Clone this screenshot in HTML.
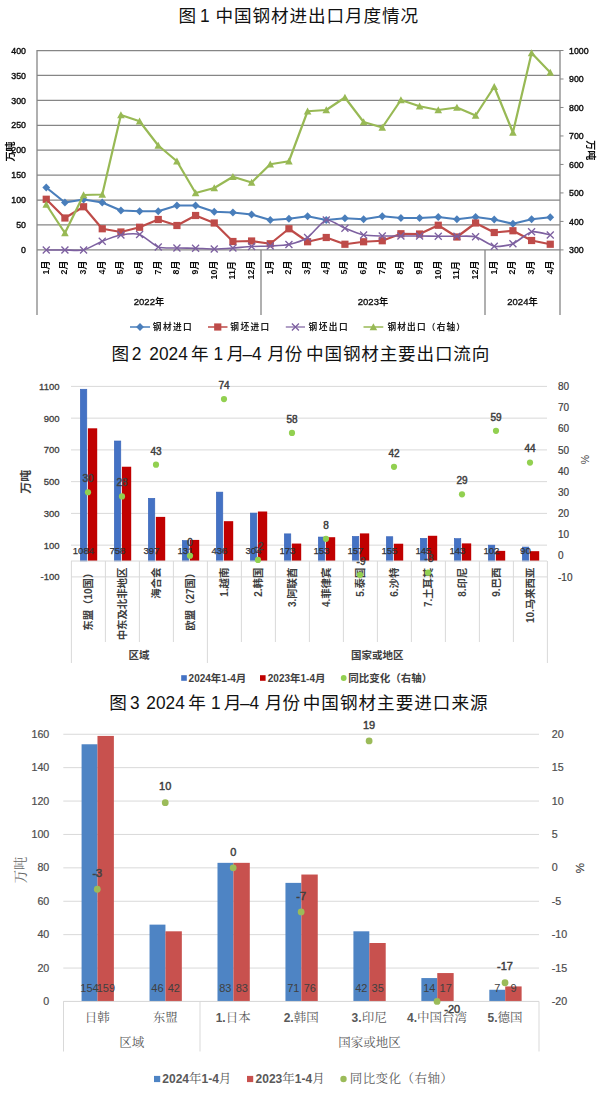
<!DOCTYPE html>
<html><head><meta charset="utf-8"><title>steel charts</title>
<style>
html,body{margin:0;padding:0;background:#fff;}
body{width:600px;height:1099px;overflow:hidden;font-family:"Liberation Sans","Noto Sans CJK SC",sans-serif;}
svg{display:block;font-family:"Liberation Sans","Noto Sans CJK SC",sans-serif;}
.cj{font-family:"Liberation Sans","Noto Sans CJK SC",sans-serif;}
.sf{font-family:"Liberation Serif","Noto Serif CJK SC",serif;}
</style></head><body>
<svg width="600" height="1099" viewBox="0 0 600 1099">
<text class="cj" x="178.48" y="21.7" font-size="17.6" fill="#111">图</text><text class="cj" x="215.41" y="21.7" font-size="17.6" fill="#111" textLength="202.6" lengthAdjust="spacing">中国钢材进出口月度情况</text><text transform="translate(199.98,21.7) scale(0.91,1)" font-size="19.0" fill="#111">1</text><text class="cj" x="111.38" y="359.7" font-size="17.6" fill="#111">图</text><text class="cj" x="191.07" y="359.7" font-size="17.6" fill="#111">年</text><text class="cj" x="226.52" y="359.7" font-size="17.6" fill="#111">月</text><text class="cj" x="267.37" y="359.7" font-size="17.6" fill="#111">月</text><text class="cj" x="284.75" y="359.7" font-size="17.6" fill="#111">份</text><text class="cj" x="306.11" y="359.7" font-size="17.6" fill="#111" textLength="183.2" lengthAdjust="spacing">中国钢材主要出口流向</text><text transform="translate(131.83,359.7) scale(0.91,1)" font-size="19.0" fill="#111">2</text><text transform="translate(149.33,359.7) scale(0.91,1)" font-size="19.0" fill="#111">2024</text><text transform="translate(213.38,359.7) scale(0.91,1)" font-size="19.0" fill="#111">1</text><text transform="translate(242.6,359.7) scale(0.91,1)" font-size="19.0" fill="#111">–</text><text transform="translate(251.9,359.7) scale(0.91,1)" font-size="19.0" fill="#111">4</text><text class="cj" x="109.28" y="708.5" font-size="17.6" fill="#111">图</text><text class="cj" x="188.27" y="708.5" font-size="17.6" fill="#111">年</text><text class="cj" x="223.87" y="708.5" font-size="17.6" fill="#111">月</text><text class="cj" x="264.87" y="708.5" font-size="17.6" fill="#111">月</text><text class="cj" x="282.45" y="708.5" font-size="17.6" fill="#111">份</text><text class="cj" x="302.76" y="708.5" font-size="17.6" fill="#111" textLength="184.9" lengthAdjust="spacing">中国钢材主要进口来源</text><text transform="translate(130.04,708.5) scale(0.91,1)" font-size="19.0" fill="#111">3</text><text transform="translate(146.33,708.5) scale(0.91,1)" font-size="19.0" fill="#111">2024</text><text transform="translate(210.98,708.5) scale(0.91,1)" font-size="19.0" fill="#111">1</text><text transform="translate(240.1,708.5) scale(0.91,1)" font-size="19.0" fill="#111">–</text><text transform="translate(249.4,708.5) scale(0.91,1)" font-size="19.0" fill="#111">4</text>
<filter id="soft" x="0" y="0" width="600" height="350" filterUnits="userSpaceOnUse"><feGaussianBlur stdDeviation="0.45"/></filter><g filter="url(#soft)"><line x1="37" y1="50.5" x2="560" y2="50.5" stroke="#868686" stroke-width="1.25"/><text x="26" y="53.7" font-size="8.8" text-anchor="end" fill="#111" stroke="#111" stroke-width="0.4">400</text><line x1="37" y1="75.42" x2="560" y2="75.42" stroke="#868686" stroke-width="1.25"/><text x="26" y="78.62" font-size="8.8" text-anchor="end" fill="#111" stroke="#111" stroke-width="0.4">350</text><line x1="37" y1="100.35" x2="560" y2="100.35" stroke="#868686" stroke-width="1.25"/><text x="26" y="103.55" font-size="8.8" text-anchor="end" fill="#111" stroke="#111" stroke-width="0.4">300</text><line x1="37" y1="125.28" x2="560" y2="125.28" stroke="#868686" stroke-width="1.25"/><text x="26" y="128.47" font-size="8.8" text-anchor="end" fill="#111" stroke="#111" stroke-width="0.4">250</text><line x1="37" y1="150.2" x2="560" y2="150.2" stroke="#868686" stroke-width="1.25"/><text x="26" y="153.4" font-size="8.8" text-anchor="end" fill="#111" stroke="#111" stroke-width="0.4">200</text><line x1="37" y1="175.12" x2="560" y2="175.12" stroke="#868686" stroke-width="1.25"/><text x="26" y="178.32" font-size="8.8" text-anchor="end" fill="#111" stroke="#111" stroke-width="0.4">150</text><line x1="37" y1="200.05" x2="560" y2="200.05" stroke="#868686" stroke-width="1.25"/><text x="26" y="203.25" font-size="8.8" text-anchor="end" fill="#111" stroke="#111" stroke-width="0.4">100</text><line x1="37" y1="224.97" x2="560" y2="224.97" stroke="#868686" stroke-width="1.25"/><text x="26" y="228.17" font-size="8.8" text-anchor="end" fill="#111" stroke="#111" stroke-width="0.4">50</text><line x1="37" y1="249.9" x2="560" y2="249.9" stroke="#868686" stroke-width="1.25"/><text x="26" y="253.1" font-size="8.8" text-anchor="end" fill="#111" stroke="#111" stroke-width="0.4">0</text><line x1="560" y1="50.5" x2="563.5" y2="50.5" stroke="#868686" stroke-width="1"/><text x="569" y="53.7" font-size="8.8" fill="#111" stroke="#111" stroke-width="0.4">1000</text><line x1="560" y1="78.99" x2="563.5" y2="78.99" stroke="#868686" stroke-width="1"/><text x="569" y="82.19" font-size="8.8" fill="#111" stroke="#111" stroke-width="0.4">900</text><line x1="560" y1="107.47" x2="563.5" y2="107.47" stroke="#868686" stroke-width="1"/><text x="569" y="110.67" font-size="8.8" fill="#111" stroke="#111" stroke-width="0.4">800</text><line x1="560" y1="135.96" x2="563.5" y2="135.96" stroke="#868686" stroke-width="1"/><text x="569" y="139.16" font-size="8.8" fill="#111" stroke="#111" stroke-width="0.4">700</text><line x1="560" y1="164.44" x2="563.5" y2="164.44" stroke="#868686" stroke-width="1"/><text x="569" y="167.64" font-size="8.8" fill="#111" stroke="#111" stroke-width="0.4">600</text><line x1="560" y1="192.93" x2="563.5" y2="192.93" stroke="#868686" stroke-width="1"/><text x="569" y="196.13" font-size="8.8" fill="#111" stroke="#111" stroke-width="0.4">500</text><line x1="560" y1="221.41" x2="563.5" y2="221.41" stroke="#868686" stroke-width="1"/><text x="569" y="224.61" font-size="8.8" fill="#111" stroke="#111" stroke-width="0.4">400</text><line x1="560" y1="249.9" x2="563.5" y2="249.9" stroke="#868686" stroke-width="1"/><text x="569" y="253.1" font-size="8.8" fill="#111" stroke="#111" stroke-width="0.4">300</text><line x1="37" y1="50" x2="37" y2="315" stroke="#868686" stroke-width="1.3"/><line x1="560" y1="50" x2="560" y2="315" stroke="#868686" stroke-width="1.3"/><line x1="261" y1="249.9" x2="261" y2="315" stroke="#868686" stroke-width="1.3"/><line x1="485" y1="249.9" x2="485" y2="315" stroke="#868686" stroke-width="1.3"/><polyline points="46.25,187.5 64.92,202.5 83.58,199.5 102.25,202.5 120.92,210.5 139.59,211.25 158.25,211.25 176.92,205.5 195.59,205.5 214.25,211.75 232.92,212.5 251.59,214.5 270.25,220 288.92,218.75 307.59,216.25 326.25,220 344.92,218.25 363.59,219.25 382.26,216.25 400.92,218 419.59,218 438.26,217 456.92,219.25 475.59,217 494.26,219.5 512.93,223.75 531.59,219.25 550.26,217.25" fill="none" stroke="#4a7ebb" stroke-width="2.2" stroke-linejoin="round" stroke-linecap="round"/><path d="M46.25 183.6l3.9 3.9l-3.9 3.9l-3.9 -3.9z" fill="#4a7ebb"/><path d="M64.92 198.6l3.9 3.9l-3.9 3.9l-3.9 -3.9z" fill="#4a7ebb"/><path d="M83.58 195.6l3.9 3.9l-3.9 3.9l-3.9 -3.9z" fill="#4a7ebb"/><path d="M102.25 198.6l3.9 3.9l-3.9 3.9l-3.9 -3.9z" fill="#4a7ebb"/><path d="M120.92 206.6l3.9 3.9l-3.9 3.9l-3.9 -3.9z" fill="#4a7ebb"/><path d="M139.59 207.35l3.9 3.9l-3.9 3.9l-3.9 -3.9z" fill="#4a7ebb"/><path d="M158.25 207.35l3.9 3.9l-3.9 3.9l-3.9 -3.9z" fill="#4a7ebb"/><path d="M176.92 201.6l3.9 3.9l-3.9 3.9l-3.9 -3.9z" fill="#4a7ebb"/><path d="M195.59 201.6l3.9 3.9l-3.9 3.9l-3.9 -3.9z" fill="#4a7ebb"/><path d="M214.25 207.85l3.9 3.9l-3.9 3.9l-3.9 -3.9z" fill="#4a7ebb"/><path d="M232.92 208.6l3.9 3.9l-3.9 3.9l-3.9 -3.9z" fill="#4a7ebb"/><path d="M251.59 210.6l3.9 3.9l-3.9 3.9l-3.9 -3.9z" fill="#4a7ebb"/><path d="M270.25 216.1l3.9 3.9l-3.9 3.9l-3.9 -3.9z" fill="#4a7ebb"/><path d="M288.92 214.85l3.9 3.9l-3.9 3.9l-3.9 -3.9z" fill="#4a7ebb"/><path d="M307.59 212.35l3.9 3.9l-3.9 3.9l-3.9 -3.9z" fill="#4a7ebb"/><path d="M326.25 216.1l3.9 3.9l-3.9 3.9l-3.9 -3.9z" fill="#4a7ebb"/><path d="M344.92 214.35l3.9 3.9l-3.9 3.9l-3.9 -3.9z" fill="#4a7ebb"/><path d="M363.59 215.35l3.9 3.9l-3.9 3.9l-3.9 -3.9z" fill="#4a7ebb"/><path d="M382.26 212.35l3.9 3.9l-3.9 3.9l-3.9 -3.9z" fill="#4a7ebb"/><path d="M400.92 214.1l3.9 3.9l-3.9 3.9l-3.9 -3.9z" fill="#4a7ebb"/><path d="M419.59 214.1l3.9 3.9l-3.9 3.9l-3.9 -3.9z" fill="#4a7ebb"/><path d="M438.26 213.1l3.9 3.9l-3.9 3.9l-3.9 -3.9z" fill="#4a7ebb"/><path d="M456.92 215.35l3.9 3.9l-3.9 3.9l-3.9 -3.9z" fill="#4a7ebb"/><path d="M475.59 213.1l3.9 3.9l-3.9 3.9l-3.9 -3.9z" fill="#4a7ebb"/><path d="M494.26 215.6l3.9 3.9l-3.9 3.9l-3.9 -3.9z" fill="#4a7ebb"/><path d="M512.93 219.85l3.9 3.9l-3.9 3.9l-3.9 -3.9z" fill="#4a7ebb"/><path d="M531.59 215.35l3.9 3.9l-3.9 3.9l-3.9 -3.9z" fill="#4a7ebb"/><path d="M550.26 213.35l3.9 3.9l-3.9 3.9l-3.9 -3.9z" fill="#4a7ebb"/><polyline points="46.25,199.25 64.92,218 83.58,206.75 102.25,228.75 120.92,232 139.59,227.25 158.25,219.5 176.92,225.5 195.59,215.5 214.25,223 232.92,241.5 251.59,241 270.25,243.75 288.92,228.75 307.59,241.75 326.25,237.5 344.92,244.25 363.59,241.75 382.26,240.75 400.92,233.75 419.59,234 438.26,225.25 456.92,237 475.59,223 494.26,232.5 512.93,230.75 531.59,240.5 550.26,244.25" fill="none" stroke="#be4b48" stroke-width="2.2" stroke-linejoin="round" stroke-linecap="round"/><rect x="42.65" y="195.65" width="7.2" height="7.2" fill="#be4b48"/><rect x="61.32" y="214.4" width="7.2" height="7.2" fill="#be4b48"/><rect x="79.98" y="203.15" width="7.2" height="7.2" fill="#be4b48"/><rect x="98.65" y="225.15" width="7.2" height="7.2" fill="#be4b48"/><rect x="117.32" y="228.4" width="7.2" height="7.2" fill="#be4b48"/><rect x="135.99" y="223.65" width="7.2" height="7.2" fill="#be4b48"/><rect x="154.65" y="215.9" width="7.2" height="7.2" fill="#be4b48"/><rect x="173.32" y="221.9" width="7.2" height="7.2" fill="#be4b48"/><rect x="191.99" y="211.9" width="7.2" height="7.2" fill="#be4b48"/><rect x="210.65" y="219.4" width="7.2" height="7.2" fill="#be4b48"/><rect x="229.32" y="237.9" width="7.2" height="7.2" fill="#be4b48"/><rect x="247.99" y="237.4" width="7.2" height="7.2" fill="#be4b48"/><rect x="266.65" y="240.15" width="7.2" height="7.2" fill="#be4b48"/><rect x="285.32" y="225.15" width="7.2" height="7.2" fill="#be4b48"/><rect x="303.99" y="238.15" width="7.2" height="7.2" fill="#be4b48"/><rect x="322.65" y="233.9" width="7.2" height="7.2" fill="#be4b48"/><rect x="341.32" y="240.65" width="7.2" height="7.2" fill="#be4b48"/><rect x="359.99" y="238.15" width="7.2" height="7.2" fill="#be4b48"/><rect x="378.66" y="237.15" width="7.2" height="7.2" fill="#be4b48"/><rect x="397.32" y="230.15" width="7.2" height="7.2" fill="#be4b48"/><rect x="415.99" y="230.4" width="7.2" height="7.2" fill="#be4b48"/><rect x="434.66" y="221.65" width="7.2" height="7.2" fill="#be4b48"/><rect x="453.32" y="233.4" width="7.2" height="7.2" fill="#be4b48"/><rect x="471.99" y="219.4" width="7.2" height="7.2" fill="#be4b48"/><rect x="490.66" y="228.9" width="7.2" height="7.2" fill="#be4b48"/><rect x="509.33" y="227.15" width="7.2" height="7.2" fill="#be4b48"/><rect x="527.99" y="236.9" width="7.2" height="7.2" fill="#be4b48"/><rect x="546.66" y="240.65" width="7.2" height="7.2" fill="#be4b48"/><path d="M46.25 250C48.3 250 60.81 250 64.92 250C69.02 250 79.48 250.96 83.58 250C87.69 249.04 98.14 242.9 102.25 241.25C106.36 239.6 116.81 235.74 120.92 235C125.02 234.26 135.48 233.18 139.59 234.5C143.69 235.82 154.15 245.51 158.25 247C162.36 248.49 172.81 247.86 176.92 248C181.03 248.14 191.48 248.14 195.59 248.25C199.69 248.36 210.15 249.03 214.25 249C218.36 248.97 228.81 248.28 232.92 248C237.03 247.72 247.48 246.72 251.59 246.5C255.69 246.28 266.15 246.22 270.25 246C274.36 245.78 284.81 245.44 288.92 244.5C293.03 243.56 303.48 240.19 307.59 237.5C311.69 234.81 322.15 221.02 326.25 220C330.36 218.98 340.82 226.6 344.92 228.25C349.03 229.9 359.48 234.15 363.59 235C367.7 235.85 378.15 235.89 382.26 236C386.36 236.11 396.82 236 400.92 236C405.03 236 415.48 235.97 419.59 236C423.7 236.03 434.15 236.22 438.26 236.25C442.36 236.28 452.82 236.19 456.92 236.25C461.03 236.31 471.48 235.65 475.59 236.75C479.7 237.85 490.15 245.48 494.26 246.25C498.36 247.02 508.82 245.34 512.93 243.75C517.03 242.16 527.49 232.71 531.59 231.75C535.7 230.79 548.21 234.64 550.26 235" fill="none" stroke="#7d60a0" stroke-width="1.6"/><path d="M42.75 246.5l7 7M42.75 253.5l7 -7" stroke="#7d60a0" stroke-width="1.3" fill="none"/><path d="M61.42 246.5l7 7M61.42 253.5l7 -7" stroke="#7d60a0" stroke-width="1.3" fill="none"/><path d="M80.08 246.5l7 7M80.08 253.5l7 -7" stroke="#7d60a0" stroke-width="1.3" fill="none"/><path d="M98.75 237.75l7 7M98.75 244.75l7 -7" stroke="#7d60a0" stroke-width="1.3" fill="none"/><path d="M117.42 231.5l7 7M117.42 238.5l7 -7" stroke="#7d60a0" stroke-width="1.3" fill="none"/><path d="M136.09 231l7 7M136.09 238l7 -7" stroke="#7d60a0" stroke-width="1.3" fill="none"/><path d="M154.75 243.5l7 7M154.75 250.5l7 -7" stroke="#7d60a0" stroke-width="1.3" fill="none"/><path d="M173.42 244.5l7 7M173.42 251.5l7 -7" stroke="#7d60a0" stroke-width="1.3" fill="none"/><path d="M192.09 244.75l7 7M192.09 251.75l7 -7" stroke="#7d60a0" stroke-width="1.3" fill="none"/><path d="M210.75 245.5l7 7M210.75 252.5l7 -7" stroke="#7d60a0" stroke-width="1.3" fill="none"/><path d="M229.42 244.5l7 7M229.42 251.5l7 -7" stroke="#7d60a0" stroke-width="1.3" fill="none"/><path d="M248.09 243l7 7M248.09 250l7 -7" stroke="#7d60a0" stroke-width="1.3" fill="none"/><path d="M266.75 242.5l7 7M266.75 249.5l7 -7" stroke="#7d60a0" stroke-width="1.3" fill="none"/><path d="M285.42 241l7 7M285.42 248l7 -7" stroke="#7d60a0" stroke-width="1.3" fill="none"/><path d="M304.09 234l7 7M304.09 241l7 -7" stroke="#7d60a0" stroke-width="1.3" fill="none"/><path d="M322.75 216.5l7 7M322.75 223.5l7 -7" stroke="#7d60a0" stroke-width="1.3" fill="none"/><path d="M341.42 224.75l7 7M341.42 231.75l7 -7" stroke="#7d60a0" stroke-width="1.3" fill="none"/><path d="M360.09 231.5l7 7M360.09 238.5l7 -7" stroke="#7d60a0" stroke-width="1.3" fill="none"/><path d="M378.76 232.5l7 7M378.76 239.5l7 -7" stroke="#7d60a0" stroke-width="1.3" fill="none"/><path d="M397.42 232.5l7 7M397.42 239.5l7 -7" stroke="#7d60a0" stroke-width="1.3" fill="none"/><path d="M416.09 232.5l7 7M416.09 239.5l7 -7" stroke="#7d60a0" stroke-width="1.3" fill="none"/><path d="M434.76 232.75l7 7M434.76 239.75l7 -7" stroke="#7d60a0" stroke-width="1.3" fill="none"/><path d="M453.42 232.75l7 7M453.42 239.75l7 -7" stroke="#7d60a0" stroke-width="1.3" fill="none"/><path d="M472.09 233.25l7 7M472.09 240.25l7 -7" stroke="#7d60a0" stroke-width="1.3" fill="none"/><path d="M490.76 242.75l7 7M490.76 249.75l7 -7" stroke="#7d60a0" stroke-width="1.3" fill="none"/><path d="M509.43 240.25l7 7M509.43 247.25l7 -7" stroke="#7d60a0" stroke-width="1.3" fill="none"/><path d="M528.09 228.25l7 7M528.09 235.25l7 -7" stroke="#7d60a0" stroke-width="1.3" fill="none"/><path d="M546.76 231.5l7 7M546.76 238.5l7 -7" stroke="#7d60a0" stroke-width="1.3" fill="none"/><polyline points="46.25,204.5 64.92,233 83.58,195 102.25,194.5 120.92,115 139.59,121.25 158.25,145.5 176.92,161.25 195.59,193 214.25,188 232.92,176.75 251.59,182.5 270.25,164.25 288.92,161.25 307.59,111.25 326.25,110 344.92,97.5 363.59,122 382.26,127.5 400.92,100 419.59,106.25 438.26,110 456.92,107.5 475.59,115.5 494.26,86.75 512.93,132.5 531.59,53 550.26,72.5" fill="none" stroke="#98b954" stroke-width="2.2" stroke-linejoin="round" stroke-linecap="round"/><path d="M46.25 200.7L50.05 207.73L42.45 207.73z" fill="#98b954"/><path d="M64.92 229.2L68.72 236.23L61.12 236.23z" fill="#98b954"/><path d="M83.58 191.2L87.38 198.23L79.78 198.23z" fill="#98b954"/><path d="M102.25 190.7L106.05 197.73L98.45 197.73z" fill="#98b954"/><path d="M120.92 111.2L124.72 118.23L117.12 118.23z" fill="#98b954"/><path d="M139.59 117.45L143.39 124.48L135.78 124.48z" fill="#98b954"/><path d="M158.25 141.7L162.05 148.73L154.45 148.73z" fill="#98b954"/><path d="M176.92 157.45L180.72 164.48L173.12 164.48z" fill="#98b954"/><path d="M195.59 189.2L199.39 196.23L191.79 196.23z" fill="#98b954"/><path d="M214.25 184.2L218.05 191.23L210.45 191.23z" fill="#98b954"/><path d="M232.92 172.95L236.72 179.98L229.12 179.98z" fill="#98b954"/><path d="M251.59 178.7L255.39 185.73L247.79 185.73z" fill="#98b954"/><path d="M270.25 160.45L274.05 167.48L266.45 167.48z" fill="#98b954"/><path d="M288.92 157.45L292.72 164.48L285.12 164.48z" fill="#98b954"/><path d="M307.59 107.45L311.39 114.48L303.79 114.48z" fill="#98b954"/><path d="M326.25 106.2L330.06 113.23L322.45 113.23z" fill="#98b954"/><path d="M344.92 93.7L348.72 100.73L341.12 100.73z" fill="#98b954"/><path d="M363.59 118.2L367.39 125.23L359.79 125.23z" fill="#98b954"/><path d="M382.26 123.7L386.06 130.73L378.46 130.73z" fill="#98b954"/><path d="M400.92 96.2L404.72 103.23L397.12 103.23z" fill="#98b954"/><path d="M419.59 102.45L423.39 109.48L415.79 109.48z" fill="#98b954"/><path d="M438.26 106.2L442.06 113.23L434.46 113.23z" fill="#98b954"/><path d="M456.92 103.7L460.72 110.73L453.12 110.73z" fill="#98b954"/><path d="M475.59 111.7L479.39 118.73L471.79 118.73z" fill="#98b954"/><path d="M494.26 82.95L498.06 89.98L490.46 89.98z" fill="#98b954"/><path d="M512.93 128.7L516.73 135.73L509.13 135.73z" fill="#98b954"/><path d="M531.59 49.2L535.39 56.23L527.79 56.23z" fill="#98b954"/><path d="M550.26 68.7L554.06 75.73L546.46 75.73z" fill="#98b954"/><g transform="translate(48.55,260.5) rotate(-90)"><text class="cj" x="-14.09" y="0" font-size="8.8" fill="#111" font-weight="bold">1<tspan font-size="9.2">月</tspan></text></g><g transform="translate(67.22,260.5) rotate(-90)"><text class="cj" x="-14.09" y="0" font-size="8.8" fill="#111" font-weight="bold">2<tspan font-size="9.2">月</tspan></text></g><g transform="translate(85.88,260.5) rotate(-90)"><text class="cj" x="-14.09" y="0" font-size="8.8" fill="#111" font-weight="bold">3<tspan font-size="9.2">月</tspan></text></g><g transform="translate(104.55,260.5) rotate(-90)"><text class="cj" x="-14.09" y="0" font-size="8.8" fill="#111" font-weight="bold">4<tspan font-size="9.2">月</tspan></text></g><g transform="translate(123.22,260.5) rotate(-90)"><text class="cj" x="-14.09" y="0" font-size="8.8" fill="#111" font-weight="bold">5<tspan font-size="9.2">月</tspan></text></g><g transform="translate(141.89,260.5) rotate(-90)"><text class="cj" x="-14.09" y="0" font-size="8.8" fill="#111" font-weight="bold">6<tspan font-size="9.2">月</tspan></text></g><g transform="translate(160.55,260.5) rotate(-90)"><text class="cj" x="-14.09" y="0" font-size="8.8" fill="#111" font-weight="bold">7<tspan font-size="9.2">月</tspan></text></g><g transform="translate(179.22,260.5) rotate(-90)"><text class="cj" x="-14.09" y="0" font-size="8.8" fill="#111" font-weight="bold">8<tspan font-size="9.2">月</tspan></text></g><g transform="translate(197.89,260.5) rotate(-90)"><text class="cj" x="-14.09" y="0" font-size="8.8" fill="#111" font-weight="bold">9<tspan font-size="9.2">月</tspan></text></g><g transform="translate(216.55,260.5) rotate(-90)"><text class="cj" x="-18.99" y="0" font-size="8.8" fill="#111" font-weight="bold">10<tspan font-size="9.2">月</tspan></text></g><g transform="translate(235.22,260.5) rotate(-90)"><text class="cj" x="-18.99" y="0" font-size="8.8" fill="#111" font-weight="bold">11<tspan font-size="9.2">月</tspan></text></g><g transform="translate(253.89,260.5) rotate(-90)"><text class="cj" x="-18.99" y="0" font-size="8.8" fill="#111" font-weight="bold">12<tspan font-size="9.2">月</tspan></text></g><g transform="translate(272.55,260.5) rotate(-90)"><text class="cj" x="-14.09" y="0" font-size="8.8" fill="#111" font-weight="bold">1<tspan font-size="9.2">月</tspan></text></g><g transform="translate(291.22,260.5) rotate(-90)"><text class="cj" x="-14.09" y="0" font-size="8.8" fill="#111" font-weight="bold">2<tspan font-size="9.2">月</tspan></text></g><g transform="translate(309.89,260.5) rotate(-90)"><text class="cj" x="-14.09" y="0" font-size="8.8" fill="#111" font-weight="bold">3<tspan font-size="9.2">月</tspan></text></g><g transform="translate(328.56,260.5) rotate(-90)"><text class="cj" x="-14.09" y="0" font-size="8.8" fill="#111" font-weight="bold">4<tspan font-size="9.2">月</tspan></text></g><g transform="translate(347.22,260.5) rotate(-90)"><text class="cj" x="-14.09" y="0" font-size="8.8" fill="#111" font-weight="bold">5<tspan font-size="9.2">月</tspan></text></g><g transform="translate(365.89,260.5) rotate(-90)"><text class="cj" x="-14.09" y="0" font-size="8.8" fill="#111" font-weight="bold">6<tspan font-size="9.2">月</tspan></text></g><g transform="translate(384.56,260.5) rotate(-90)"><text class="cj" x="-14.09" y="0" font-size="8.8" fill="#111" font-weight="bold">7<tspan font-size="9.2">月</tspan></text></g><g transform="translate(403.22,260.5) rotate(-90)"><text class="cj" x="-14.09" y="0" font-size="8.8" fill="#111" font-weight="bold">8<tspan font-size="9.2">月</tspan></text></g><g transform="translate(421.89,260.5) rotate(-90)"><text class="cj" x="-14.09" y="0" font-size="8.8" fill="#111" font-weight="bold">9<tspan font-size="9.2">月</tspan></text></g><g transform="translate(440.56,260.5) rotate(-90)"><text class="cj" x="-18.99" y="0" font-size="8.8" fill="#111" font-weight="bold">10<tspan font-size="9.2">月</tspan></text></g><g transform="translate(459.22,260.5) rotate(-90)"><text class="cj" x="-18.99" y="0" font-size="8.8" fill="#111" font-weight="bold">11<tspan font-size="9.2">月</tspan></text></g><g transform="translate(477.89,260.5) rotate(-90)"><text class="cj" x="-18.99" y="0" font-size="8.8" fill="#111" font-weight="bold">12<tspan font-size="9.2">月</tspan></text></g><g transform="translate(496.56,260.5) rotate(-90)"><text class="cj" x="-14.09" y="0" font-size="8.8" fill="#111" font-weight="bold">1<tspan font-size="9.2">月</tspan></text></g><g transform="translate(515.23,260.5) rotate(-90)"><text class="cj" x="-14.09" y="0" font-size="8.8" fill="#111" font-weight="bold">2<tspan font-size="9.2">月</tspan></text></g><g transform="translate(533.89,260.5) rotate(-90)"><text class="cj" x="-14.09" y="0" font-size="8.8" fill="#111" font-weight="bold">3<tspan font-size="9.2">月</tspan></text></g><g transform="translate(552.56,260.5) rotate(-90)"><text class="cj" x="-14.09" y="0" font-size="8.8" fill="#111" font-weight="bold">4<tspan font-size="9.2">月</tspan></text></g><g transform="translate(149,304.7)"><text x="-15.22" y="0" font-size="9.5" fill="#111" stroke="#111" stroke-width="0.35">2022</text><text class="cj" x="5.92" y="0" font-size="9.3" fill="#111" font-weight="bold">年</text></g><g transform="translate(373,304.7)"><text x="-15.22" y="0" font-size="9.5" fill="#111" stroke="#111" stroke-width="0.35">2023</text><text class="cj" x="5.92" y="0" font-size="9.3" fill="#111" font-weight="bold">年</text></g><g transform="translate(522.5,304.7)"><text x="-15.22" y="0" font-size="9.5" fill="#111" stroke="#111" stroke-width="0.35">2024</text><text class="cj" x="5.92" y="0" font-size="9.3" fill="#111" font-weight="bold">年</text></g><g transform="translate(13.6,151.5) rotate(-90)"><text class="cj" x="-10" y="0" font-size="10" fill="#111" font-weight="bold">万吨</text></g><g transform="translate(587.4,150.3) rotate(90)"><text class="cj" x="-10" y="0" font-size="10" fill="#111" font-weight="bold">万吨</text></g><line x1="130" y1="327" x2="150" y2="327" stroke="#4a7ebb" stroke-width="1.5"/><path d="M140 323.1l3.9 3.9l-3.9 3.9l-3.9 -3.9z" fill="#4a7ebb"/><g transform="translate(152.1,330.3)"><text class="cj" x="0.7" y="0" font-size="8.7" fill="#222" font-weight="bold" textLength="39" lengthAdjust="spacing">钢材进口</text></g><line x1="208" y1="327" x2="227.5" y2="327" stroke="#be4b48" stroke-width="1.5"/><rect x="214.15" y="323.4" width="7.2" height="7.2" fill="#be4b48"/><g transform="translate(229.6,330.3)"><text class="cj" x="0.7" y="0" font-size="8.7" fill="#222" font-weight="bold" textLength="39" lengthAdjust="spacing">钢坯进口</text></g><line x1="285.8" y1="327" x2="305" y2="327" stroke="#7d60a0" stroke-width="1.2"/><path d="M291.9 323.5l7 7M291.9 330.5l7 -7" stroke="#7d60a0" stroke-width="1.3" fill="none"/><g transform="translate(307.9,330.3)"><text class="cj" x="0.7" y="0" font-size="8.7" fill="#222" font-weight="bold" textLength="39" lengthAdjust="spacing">钢坯出口</text></g><line x1="363.5" y1="327" x2="383.3" y2="327" stroke="#98b954" stroke-width="1.5"/><path d="M373.4 323.2L377.2 330.23L369.6 330.23z" fill="#98b954"/><g transform="translate(386.8,330.3)"><text class="cj" x="0.58" y="0" font-size="8.7" fill="#222" font-weight="bold" textLength="77.65" lengthAdjust="spacing">钢材出口（右轴）</text></g></g>
<line x1="71" y1="386.4" x2="547" y2="386.4" stroke="#d9d9d9" stroke-width="1"/><text x="59.5" y="389.8" font-size="9.5" text-anchor="end" fill="#404040" stroke="#404040" stroke-width="0.3">1100</text><line x1="71" y1="418.15" x2="547" y2="418.15" stroke="#d9d9d9" stroke-width="1"/><text x="59.5" y="421.55" font-size="9.5" text-anchor="end" fill="#404040" stroke="#404040" stroke-width="0.3">900</text><line x1="71" y1="449.9" x2="547" y2="449.9" stroke="#d9d9d9" stroke-width="1"/><text x="59.5" y="453.3" font-size="9.5" text-anchor="end" fill="#404040" stroke="#404040" stroke-width="0.3">700</text><line x1="71" y1="481.65" x2="547" y2="481.65" stroke="#d9d9d9" stroke-width="1"/><text x="59.5" y="485.05" font-size="9.5" text-anchor="end" fill="#404040" stroke="#404040" stroke-width="0.3">500</text><line x1="71" y1="513.4" x2="547" y2="513.4" stroke="#d9d9d9" stroke-width="1"/><text x="59.5" y="516.8" font-size="9.5" text-anchor="end" fill="#404040" stroke="#404040" stroke-width="0.3">300</text><line x1="71" y1="545.15" x2="547" y2="545.15" stroke="#d9d9d9" stroke-width="1"/><text x="59.5" y="548.55" font-size="9.5" text-anchor="end" fill="#404040" stroke="#404040" stroke-width="0.3">100</text><line x1="71" y1="576.9" x2="547" y2="576.9" stroke="#d9d9d9" stroke-width="1"/><text x="59.5" y="580.3" font-size="9.5" text-anchor="end" fill="#404040" stroke="#404040" stroke-width="0.3">-100</text><text x="558" y="390" font-size="10" fill="#404040" stroke="#404040" stroke-width="0.2">80</text><text x="558" y="411.17" font-size="10" fill="#404040" stroke="#404040" stroke-width="0.2">70</text><text x="558" y="432.33" font-size="10" fill="#404040" stroke="#404040" stroke-width="0.2">60</text><text x="558" y="453.5" font-size="10" fill="#404040" stroke="#404040" stroke-width="0.2">50</text><text x="558" y="474.67" font-size="10" fill="#404040" stroke="#404040" stroke-width="0.2">40</text><text x="558" y="495.83" font-size="10" fill="#404040" stroke="#404040" stroke-width="0.2">30</text><text x="558" y="517" font-size="10" fill="#404040" stroke="#404040" stroke-width="0.2">20</text><text x="558" y="538.17" font-size="10" fill="#404040" stroke="#404040" stroke-width="0.2">10</text><text x="558" y="559.34" font-size="10" fill="#404040" stroke="#404040" stroke-width="0.2">0</text><text x="558" y="580.5" font-size="10" fill="#404040" stroke="#404040" stroke-width="0.2">-10</text><rect x="80.3" y="389.24" width="6.5" height="171.78" fill="#4472c4" stroke="#3763b8" stroke-width="0.6"/><rect x="87.9" y="428.31" width="9.3" height="132.71" fill="#c00000"/><rect x="114.3" y="440.99" width="6.5" height="120.03" fill="#4472c4" stroke="#3763b8" stroke-width="0.6"/><rect x="121.9" y="466.73" width="9.3" height="94.3" fill="#c00000"/><rect x="148.3" y="498.3" width="6.5" height="62.72" fill="#4472c4" stroke="#3763b8" stroke-width="0.6"/><rect x="155.9" y="516.89" width="9.3" height="44.13" fill="#c00000"/><rect x="182.3" y="540.53" width="6.5" height="20.5" fill="#4472c4" stroke="#3763b8" stroke-width="0.6"/><rect x="189.9" y="539.91" width="9.3" height="21.11" fill="#c00000"/><rect x="216.3" y="492.11" width="6.5" height="68.92" fill="#4472c4" stroke="#3763b8" stroke-width="0.6"/><rect x="223.9" y="521.18" width="9.3" height="39.85" fill="#c00000"/><rect x="250.3" y="513.06" width="6.5" height="47.96" fill="#4472c4" stroke="#3763b8" stroke-width="0.6"/><rect x="257.9" y="511.5" width="9.3" height="49.53" fill="#c00000"/><rect x="284.3" y="533.86" width="6.5" height="27.16" fill="#4472c4" stroke="#3763b8" stroke-width="0.6"/><rect x="291.9" y="543.56" width="9.3" height="17.46" fill="#c00000"/><rect x="318.3" y="537.04" width="6.5" height="23.99" fill="#4472c4" stroke="#3763b8" stroke-width="0.6"/><rect x="325.9" y="537.21" width="9.3" height="23.81" fill="#c00000"/><rect x="352.3" y="536.4" width="6.5" height="24.62" fill="#4472c4" stroke="#3763b8" stroke-width="0.6"/><rect x="359.9" y="533.4" width="9.3" height="27.62" fill="#c00000"/><rect x="386.3" y="536.72" width="6.5" height="24.31" fill="#4472c4" stroke="#3763b8" stroke-width="0.6"/><rect x="393.9" y="543.72" width="9.3" height="17.3" fill="#c00000"/><rect x="420.3" y="538.31" width="6.5" height="22.72" fill="#4472c4" stroke="#3763b8" stroke-width="0.6"/><rect x="427.9" y="535.78" width="9.3" height="25.24" fill="#c00000"/><rect x="454.3" y="538.62" width="6.5" height="22.4" fill="#4472c4" stroke="#3763b8" stroke-width="0.6"/><rect x="461.9" y="543.4" width="9.3" height="17.62" fill="#c00000"/><rect x="488.3" y="545.13" width="6.5" height="15.89" fill="#4472c4" stroke="#3763b8" stroke-width="0.6"/><rect x="495.9" y="550.87" width="9.3" height="10.16" fill="#c00000"/><rect x="522.3" y="547.04" width="6.5" height="13.99" fill="#4472c4" stroke="#3763b8" stroke-width="0.6"/><rect x="529.9" y="551.18" width="9.3" height="9.84" fill="#c00000"/><line x1="71" y1="561.02" x2="547" y2="561.02" stroke="#d9d9d9" stroke-width="1"/><line x1="71.4" y1="561.02" x2="71.4" y2="663" stroke="#d9d9d9" stroke-width="1"/><line x1="105.4" y1="561.02" x2="105.4" y2="642" stroke="#d9d9d9" stroke-width="1"/><line x1="139.4" y1="561.02" x2="139.4" y2="642" stroke="#d9d9d9" stroke-width="1"/><line x1="173.4" y1="561.02" x2="173.4" y2="642" stroke="#d9d9d9" stroke-width="1"/><line x1="207.4" y1="561.02" x2="207.4" y2="663" stroke="#d9d9d9" stroke-width="1"/><line x1="241.4" y1="561.02" x2="241.4" y2="642" stroke="#d9d9d9" stroke-width="1"/><line x1="275.4" y1="561.02" x2="275.4" y2="642" stroke="#d9d9d9" stroke-width="1"/><line x1="309.4" y1="561.02" x2="309.4" y2="642" stroke="#d9d9d9" stroke-width="1"/><line x1="343.4" y1="561.02" x2="343.4" y2="642" stroke="#d9d9d9" stroke-width="1"/><line x1="377.4" y1="561.02" x2="377.4" y2="642" stroke="#d9d9d9" stroke-width="1"/><line x1="411.4" y1="561.02" x2="411.4" y2="642" stroke="#d9d9d9" stroke-width="1"/><line x1="445.4" y1="561.02" x2="445.4" y2="642" stroke="#d9d9d9" stroke-width="1"/><line x1="479.4" y1="561.02" x2="479.4" y2="642" stroke="#d9d9d9" stroke-width="1"/><line x1="513.4" y1="561.02" x2="513.4" y2="642" stroke="#d9d9d9" stroke-width="1"/><line x1="547.4" y1="561.02" x2="547.4" y2="663" stroke="#d9d9d9" stroke-width="1"/><text x="83.4" y="553.8" font-size="9.6" text-anchor="middle" fill="#333" stroke="#333" stroke-width="0.25">1084</text><text x="117.4" y="553.8" font-size="9.6" text-anchor="middle" fill="#333" stroke="#333" stroke-width="0.25">758</text><text x="151.4" y="553.8" font-size="9.6" text-anchor="middle" fill="#333" stroke="#333" stroke-width="0.25">397</text><text x="185.4" y="553.8" font-size="9.6" text-anchor="middle" fill="#333" stroke="#333" stroke-width="0.25">131</text><text x="219.4" y="553.8" font-size="9.6" text-anchor="middle" fill="#333" stroke="#333" stroke-width="0.25">436</text><text x="253.4" y="553.8" font-size="9.6" text-anchor="middle" fill="#333" stroke="#333" stroke-width="0.25">304</text><text x="287.4" y="553.8" font-size="9.6" text-anchor="middle" fill="#333" stroke="#333" stroke-width="0.25">173</text><text x="321.4" y="553.8" font-size="9.6" text-anchor="middle" fill="#333" stroke="#333" stroke-width="0.25">153</text><text x="355.4" y="553.8" font-size="9.6" text-anchor="middle" fill="#333" stroke="#333" stroke-width="0.25">157</text><text x="389.4" y="553.8" font-size="9.6" text-anchor="middle" fill="#333" stroke="#333" stroke-width="0.25">155</text><text x="423.4" y="553.8" font-size="9.6" text-anchor="middle" fill="#333" stroke="#333" stroke-width="0.25">145</text><text x="457.4" y="553.8" font-size="9.6" text-anchor="middle" fill="#333" stroke="#333" stroke-width="0.25">143</text><text x="491.4" y="553.8" font-size="9.6" text-anchor="middle" fill="#333" stroke="#333" stroke-width="0.25">102</text><text x="525.4" y="553.8" font-size="9.6" text-anchor="middle" fill="#333" stroke="#333" stroke-width="0.25">90</text><g transform="translate(92.1,567.6) rotate(-90)"><text class="cj" x="0" y="0" font-size="10.4" text-anchor="end" fill="#404040" font-weight="bold">东盟（<tspan font-size="10">10</tspan>国）</text></g><g transform="translate(126.1,567.6) rotate(-90)"><text class="cj" x="0" y="0" font-size="10.4" text-anchor="end" fill="#404040" font-weight="bold">中东及北非地区</text></g><g transform="translate(160.1,567.6) rotate(-90)"><text class="cj" x="0" y="0" font-size="10.4" text-anchor="end" fill="#404040" font-weight="bold">海合会</text></g><g transform="translate(194.1,567.6) rotate(-90)"><text class="cj" x="0" y="0" font-size="10.4" text-anchor="end" fill="#404040" font-weight="bold">欧盟（<tspan font-size="10">27</tspan>国）</text></g><g transform="translate(228.1,567.6) rotate(-90)"><text class="cj" x="0" y="0" font-size="10.4" text-anchor="end" fill="#404040" font-weight="bold"><tspan font-size="10">1.</tspan>越南</text></g><g transform="translate(262.1,567.6) rotate(-90)"><text class="cj" x="0" y="0" font-size="10.4" text-anchor="end" fill="#404040" font-weight="bold"><tspan font-size="10">2.</tspan>韩国</text></g><g transform="translate(296.1,567.6) rotate(-90)"><text class="cj" x="0" y="0" font-size="10.4" text-anchor="end" fill="#404040" font-weight="bold"><tspan font-size="10">3.</tspan>阿联酋</text></g><g transform="translate(330.1,567.6) rotate(-90)"><text class="cj" x="0" y="0" font-size="10.4" text-anchor="end" fill="#404040" font-weight="bold"><tspan font-size="10">4.</tspan>菲律宾</text></g><g transform="translate(364.1,567.6) rotate(-90)"><text class="cj" x="0" y="0" font-size="10.4" text-anchor="end" fill="#404040" font-weight="bold"><tspan font-size="10">5.</tspan>泰国</text></g><g transform="translate(398.1,567.6) rotate(-90)"><text class="cj" x="0" y="0" font-size="10.4" text-anchor="end" fill="#404040" font-weight="bold"><tspan font-size="10">6.</tspan>沙特</text></g><g transform="translate(432.1,567.6) rotate(-90)"><text class="cj" x="0" y="0" font-size="10.4" text-anchor="end" fill="#404040" font-weight="bold"><tspan font-size="10">7.</tspan>土耳其</text></g><g transform="translate(466.1,567.6) rotate(-90)"><text class="cj" x="0" y="0" font-size="10.4" text-anchor="end" fill="#404040" font-weight="bold"><tspan font-size="10">8.</tspan>印尼</text></g><g transform="translate(500.1,567.6) rotate(-90)"><text class="cj" x="0" y="0" font-size="10.4" text-anchor="end" fill="#404040" font-weight="bold"><tspan font-size="10">9.</tspan>巴西</text></g><g transform="translate(534.1,567.6) rotate(-90)"><text class="cj" x="0" y="0" font-size="10.4" text-anchor="end" fill="#404040" font-weight="bold"><tspan font-size="10">10.</tspan>马来西亚</text></g><g transform="translate(139,659.3)"><text class="cj" x="0" y="0" font-size="10.5" text-anchor="middle" fill="#404040" font-weight="bold">区域</text></g><g transform="translate(377.3,659.3)"><text class="cj" x="0" y="0" font-size="10.5" text-anchor="middle" fill="#404040" font-weight="bold">国家或地区</text></g><circle cx="88" cy="492.23" r="3.1" fill="#92d050"/><circle cx="122" cy="496.47" r="3.1" fill="#92d050"/><circle cx="156" cy="464.72" r="3.1" fill="#92d050"/><circle cx="190" cy="555.74" r="3.1" fill="#92d050"/><circle cx="224" cy="399.1" r="3.1" fill="#92d050"/><circle cx="258" cy="559.97" r="3.1" fill="#92d050"/><circle cx="292" cy="432.97" r="3.1" fill="#92d050"/><circle cx="326" cy="538.8" r="3.1" fill="#92d050"/><circle cx="360" cy="574.79" r="3.1" fill="#92d050"/><circle cx="394" cy="466.83" r="3.1" fill="#92d050"/><circle cx="428" cy="572.67" r="3.1" fill="#92d050"/><circle cx="462" cy="494.35" r="3.1" fill="#92d050"/><circle cx="496" cy="430.85" r="3.1" fill="#92d050"/><circle cx="530" cy="462.6" r="3.1" fill="#92d050"/><text x="88" y="482.03" font-size="10" text-anchor="middle" fill="#404040" stroke="#404040" stroke-width="0.45">30</text><text x="122" y="486.27" font-size="10" text-anchor="middle" fill="#404040" stroke="#404040" stroke-width="0.45">28</text><text x="156" y="454.52" font-size="10" text-anchor="middle" fill="#404040" stroke="#404040" stroke-width="0.45">43</text><text x="190" y="545.54" font-size="10" text-anchor="middle" fill="#404040" stroke="#404040" stroke-width="0.45">0</text><text x="224" y="388.9" font-size="10" text-anchor="middle" fill="#404040" stroke="#404040" stroke-width="0.45">74</text><text x="259" y="549.77" font-size="10" text-anchor="middle" fill="#404040" stroke="#404040" stroke-width="0.45">-2</text><text x="292" y="422.77" font-size="10" text-anchor="middle" fill="#404040" stroke="#404040" stroke-width="0.45">58</text><text x="326" y="528.6" font-size="10" text-anchor="middle" fill="#404040" stroke="#404040" stroke-width="0.45">8</text><text x="361" y="564.59" font-size="10" text-anchor="middle" fill="#404040" stroke="#404040" stroke-width="0.45">-9</text><text x="394" y="456.63" font-size="10" text-anchor="middle" fill="#404040" stroke="#404040" stroke-width="0.45">42</text><text x="429" y="562.47" font-size="10" text-anchor="middle" fill="#404040" stroke="#404040" stroke-width="0.45">-8</text><text x="462" y="484.15" font-size="10" text-anchor="middle" fill="#404040" stroke="#404040" stroke-width="0.45">29</text><text x="496" y="420.65" font-size="10" text-anchor="middle" fill="#404040" stroke="#404040" stroke-width="0.45">59</text><text x="530" y="452.4" font-size="10" text-anchor="middle" fill="#404040" stroke="#404040" stroke-width="0.45">44</text><g transform="translate(30.3,481.8) rotate(-90)"><text class="cj" x="-11.9" y="0" font-size="11.9" fill="#404040" font-weight="bold">万吨</text></g><text transform="translate(588.5,459.5) rotate(-90)" font-size="10.5" text-anchor="middle" fill="#404040">%</text><rect x="181.2" y="675.2" width="5.6" height="5.6" fill="#4472c4"/><g transform="translate(188.6,681.7)"><text class="cj" x="0" y="0" font-size="10" fill="#404040" font-weight="bold">2024<tspan font-size="10.5">年</tspan>1-4<tspan font-size="10.5">月</tspan></text></g><rect x="260" y="675.2" width="5.6" height="5.6" fill="#c00000"/><g transform="translate(267.8,681.7)"><text class="cj" x="0" y="0" font-size="10" fill="#404040" font-weight="bold">2023<tspan font-size="10.5">年</tspan>1-4<tspan font-size="10.5">月</tspan></text></g><circle cx="343.7" cy="678" r="2.9" fill="#92d050"/><g transform="translate(348.2,681.7)"><text class="cj" x="0" y="0" font-size="10.5" fill="#404040" font-weight="bold">同比变化（右轴）</text></g>
<line x1="63.3" y1="734.25" x2="539" y2="734.25" stroke="#d9d9d9" stroke-width="1"/><text x="49.3" y="737.85" font-size="10.7" text-anchor="end" fill="#4d4d4d" stroke="#4d4d4d" stroke-width="0.2">160</text><line x1="63.3" y1="767.65" x2="539" y2="767.65" stroke="#d9d9d9" stroke-width="1"/><text x="49.3" y="771.25" font-size="10.7" text-anchor="end" fill="#4d4d4d" stroke="#4d4d4d" stroke-width="0.2">140</text><line x1="63.3" y1="801.05" x2="539" y2="801.05" stroke="#d9d9d9" stroke-width="1"/><text x="49.3" y="804.65" font-size="10.7" text-anchor="end" fill="#4d4d4d" stroke="#4d4d4d" stroke-width="0.2">120</text><line x1="63.3" y1="834.45" x2="539" y2="834.45" stroke="#d9d9d9" stroke-width="1"/><text x="49.3" y="838.05" font-size="10.7" text-anchor="end" fill="#4d4d4d" stroke="#4d4d4d" stroke-width="0.2">100</text><line x1="63.3" y1="867.85" x2="539" y2="867.85" stroke="#d9d9d9" stroke-width="1"/><text x="49.3" y="871.45" font-size="10.7" text-anchor="end" fill="#4d4d4d" stroke="#4d4d4d" stroke-width="0.2">80</text><line x1="63.3" y1="901.25" x2="539" y2="901.25" stroke="#d9d9d9" stroke-width="1"/><text x="49.3" y="904.85" font-size="10.7" text-anchor="end" fill="#4d4d4d" stroke="#4d4d4d" stroke-width="0.2">60</text><line x1="63.3" y1="934.65" x2="539" y2="934.65" stroke="#d9d9d9" stroke-width="1"/><text x="49.3" y="938.25" font-size="10.7" text-anchor="end" fill="#4d4d4d" stroke="#4d4d4d" stroke-width="0.2">40</text><line x1="63.3" y1="968.05" x2="539" y2="968.05" stroke="#d9d9d9" stroke-width="1"/><text x="49.3" y="971.65" font-size="10.7" text-anchor="end" fill="#4d4d4d" stroke="#4d4d4d" stroke-width="0.2">20</text><line x1="63.3" y1="1001.45" x2="539" y2="1001.45" stroke="#d9d9d9" stroke-width="1"/><text x="49.3" y="1005.05" font-size="10.7" text-anchor="end" fill="#4d4d4d" stroke="#4d4d4d" stroke-width="0.2">0</text><text x="551.7" y="737.85" font-size="10.7" fill="#4d4d4d" stroke="#4d4d4d" stroke-width="0.2">20</text><text x="551.7" y="771.25" font-size="10.7" fill="#4d4d4d" stroke="#4d4d4d" stroke-width="0.2">15</text><text x="551.7" y="804.65" font-size="10.7" fill="#4d4d4d" stroke="#4d4d4d" stroke-width="0.2">10</text><text x="551.7" y="838.05" font-size="10.7" fill="#4d4d4d" stroke="#4d4d4d" stroke-width="0.2">5</text><text x="551.7" y="871.45" font-size="10.7" fill="#4d4d4d" stroke="#4d4d4d" stroke-width="0.2">0</text><text x="551.7" y="904.85" font-size="10.7" fill="#4d4d4d" stroke="#4d4d4d" stroke-width="0.2">-5</text><text x="551.7" y="938.25" font-size="10.7" fill="#4d4d4d" stroke="#4d4d4d" stroke-width="0.2">-10</text><text x="551.7" y="971.65" font-size="10.7" fill="#4d4d4d" stroke="#4d4d4d" stroke-width="0.2">-15</text><text x="551.7" y="1005.05" font-size="10.7" fill="#4d4d4d" stroke="#4d4d4d" stroke-width="0.2">-20</text><rect x="81.58" y="744.27" width="15.9" height="257.18" fill="#4e84c4"/><rect x="97.48" y="735.92" width="16.4" height="265.53" fill="#c8514e"/><rect x="149.54" y="924.63" width="15.9" height="76.82" fill="#4e84c4"/><rect x="165.44" y="931.31" width="16.4" height="70.14" fill="#c8514e"/><rect x="217.49" y="862.84" width="15.9" height="138.61" fill="#4e84c4"/><rect x="233.39" y="862.84" width="16.4" height="138.61" fill="#c8514e"/><rect x="285.45" y="882.88" width="15.9" height="118.57" fill="#4e84c4"/><rect x="301.35" y="874.53" width="16.4" height="126.92" fill="#c8514e"/><rect x="353.41" y="931.31" width="15.9" height="70.14" fill="#4e84c4"/><rect x="369.31" y="943" width="16.4" height="58.45" fill="#c8514e"/><rect x="421.36" y="978.07" width="15.9" height="23.38" fill="#4e84c4"/><rect x="437.26" y="973.06" width="16.4" height="28.39" fill="#c8514e"/><rect x="489.32" y="989.76" width="15.9" height="11.69" fill="#4e84c4"/><rect x="505.22" y="986.42" width="16.4" height="15.03" fill="#c8514e"/><line x1="63.3" y1="1001.45" x2="539" y2="1001.45" stroke="#d9d9d9" stroke-width="1"/><line x1="63.5" y1="1001.45" x2="63.5" y2="1051.5" stroke="#d9d9d9" stroke-width="1"/><line x1="200" y1="1001.45" x2="200" y2="1051.5" stroke="#d9d9d9" stroke-width="1"/><line x1="539" y1="1001.45" x2="539" y2="1051.5" stroke="#d9d9d9" stroke-width="1"/><text x="89.48" y="991.6" font-size="11" text-anchor="middle" fill="#404040">154</text><text x="105.88" y="991.6" font-size="11" text-anchor="middle" fill="#404040">159</text><text x="157.44" y="991.6" font-size="11" text-anchor="middle" fill="#404040">46</text><text x="173.84" y="991.6" font-size="11" text-anchor="middle" fill="#404040">42</text><text x="225.39" y="991.6" font-size="11" text-anchor="middle" fill="#404040">83</text><text x="241.79" y="991.6" font-size="11" text-anchor="middle" fill="#404040">83</text><text x="293.35" y="991.6" font-size="11" text-anchor="middle" fill="#404040">71</text><text x="309.75" y="991.6" font-size="11" text-anchor="middle" fill="#404040">76</text><text x="361.31" y="991.6" font-size="11" text-anchor="middle" fill="#404040">42</text><text x="377.71" y="991.6" font-size="11" text-anchor="middle" fill="#404040">35</text><text x="429.26" y="991.6" font-size="11" text-anchor="middle" fill="#404040">14</text><text x="445.66" y="991.6" font-size="11" text-anchor="middle" fill="#404040">17</text><text x="497.22" y="991.6" font-size="11" text-anchor="middle" fill="#404040">7</text><text x="513.62" y="991.6" font-size="11" text-anchor="middle" fill="#404040">9</text><circle cx="97.28" cy="889.23" r="3.4" fill="#9bbb59"/><circle cx="165.24" cy="802.72" r="3.4" fill="#9bbb59"/><circle cx="233.19" cy="867.85" r="3.4" fill="#9bbb59"/><circle cx="301.15" cy="911.94" r="3.4" fill="#9bbb59"/><circle cx="369.11" cy="740.93" r="3.4" fill="#9bbb59"/><circle cx="437.06" cy="1001.45" r="3.4" fill="#9bbb59"/><circle cx="505.02" cy="982.75" r="3.4" fill="#9bbb59"/><text x="97.28" y="876.93" font-size="11" text-anchor="middle" fill="#404040" stroke="#404040" stroke-width="0.45">-3</text><text x="165.24" y="790.42" font-size="11" text-anchor="middle" fill="#404040" stroke="#404040" stroke-width="0.45">10</text><text x="233.19" y="855.55" font-size="11" text-anchor="middle" fill="#404040" stroke="#404040" stroke-width="0.45">0</text><text x="301.15" y="899.64" font-size="11" text-anchor="middle" fill="#404040" stroke="#404040" stroke-width="0.45">-7</text><text x="369.11" y="728.63" font-size="11" text-anchor="middle" fill="#404040" stroke="#404040" stroke-width="0.45">19</text><text x="452.3" y="1013" font-size="11" text-anchor="middle" fill="#404040" stroke="#404040" stroke-width="0.45">-20</text><text x="505.02" y="970.45" font-size="11" text-anchor="middle" fill="#404040" stroke="#404040" stroke-width="0.45">-17</text><g transform="translate(97.28,1022)"><text class="sf" x="0" y="0" font-size="12.5" text-anchor="middle" fill="#595959">日韩</text></g><g transform="translate(165.24,1022)"><text class="sf" x="0" y="0" font-size="12.5" text-anchor="middle" fill="#595959">东盟</text></g><g transform="translate(233.19,1022)"><text x="-17.5" y="0" font-size="12" fill="#595959" font-weight="bold">1.<tspan class="sf" font-size="12.5" font-weight="normal">日本</tspan></text></g><g transform="translate(301.15,1022)"><text x="-17.5" y="0" font-size="12" fill="#595959" font-weight="bold">2.<tspan class="sf" font-size="12.5" font-weight="normal">韩国</tspan></text></g><g transform="translate(369.11,1022)"><text x="-17.5" y="0" font-size="12" fill="#595959" font-weight="bold">3.<tspan class="sf" font-size="12.5" font-weight="normal">印尼</tspan></text></g><g transform="translate(437.06,1022)"><text x="-30" y="0" font-size="12" fill="#595959" font-weight="bold">4.<tspan class="sf" font-size="12.5" font-weight="normal">中国台湾</tspan></text></g><g transform="translate(505.02,1022)"><text x="-17.5" y="0" font-size="12" fill="#595959" font-weight="bold">5.<tspan class="sf" font-size="12.5" font-weight="normal">德国</tspan></text></g><g transform="translate(131.7,1047)"><text class="sf" x="0" y="0" font-size="12.5" text-anchor="middle" fill="#595959">区域</text></g><g transform="translate(369.5,1047)"><text class="sf" x="0" y="0" font-size="12.5" text-anchor="middle" fill="#595959">国家或地区</text></g><g transform="translate(25,870) rotate(-90)"><text class="sf" x="0" y="0" font-size="13.3" text-anchor="middle" fill="#666">万吨</text></g><text transform="translate(583.6,868.2) rotate(-90)" font-size="11.5" text-anchor="middle" fill="#444" stroke="#444" stroke-width="0.2">%</text><rect x="154" y="1075.9" width="6.2" height="6.2" fill="#4e84c4"/><g transform="translate(162.3,1083)"><text x="0" y="0" font-size="12" fill="#595959" font-weight="bold">2024<tspan class="sf" font-size="12.5" font-weight="normal">年</tspan>1-4<tspan class="sf" font-size="12.5" font-weight="normal">月</tspan></text></g><rect x="247" y="1075.9" width="6.2" height="6.2" fill="#c8514e"/><g transform="translate(255.6,1083)"><text x="0" y="0" font-size="12" fill="#595959" font-weight="bold">2023<tspan class="sf" font-size="12.5" font-weight="normal">年</tspan>1-4<tspan class="sf" font-size="12.5" font-weight="normal">月</tspan></text></g><circle cx="343.5" cy="1079" r="3.2" fill="#9bbb59"/><g transform="translate(349.5,1083)"><text class="sf" x="0.22" y="0" font-size="12.5" fill="#595959" textLength="103.16" lengthAdjust="spacing">同比变化（右轴）</text></g>
</svg>
</body></html>
